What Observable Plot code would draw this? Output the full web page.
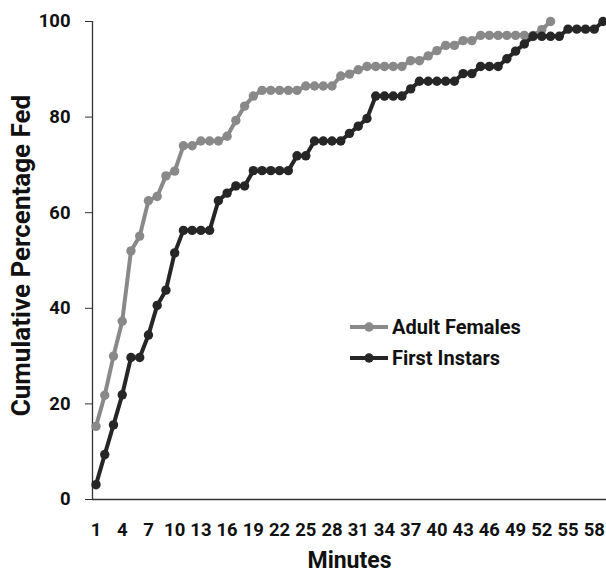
<!DOCTYPE html>
<html>
<head>
<meta charset="utf-8">
<script src="https://cdn.jsdelivr.net/npm/d3@7"></script>
<script src="https://cdn.jsdelivr.net/npm/@observablehq/plot@0.6"></script>
<style>
  html, body { margin: 0; padding: 0; background: #fff; }
  #wrap { position: relative; width: 606px; height: 575px; font-family: Roboto, "Open Sans", sans-serif; }
  #legend { position: absolute; left: 350px; top: 311px; font-weight: bold; font-size: 20px; color: #111; }
  #legend .row { display: flex; align-items: center; height: 31.6px; }
  #legend svg { margin-right: 2px; }
</style>
</head>
<body>
<div id="wrap"></div>
<script>
const adultMinutes = d3.range(1, 54);
const adultFemales = [15.3, 21.8, 30.0, 37.3, 52.0, 55.1, 62.5, 63.4, 67.7, 68.7,
  74.0, 74.0, 75.0, 75.0, 75.0, 76.0, 79.3, 82.3, 84.4, 85.6,
  85.6, 85.6, 85.6, 85.6, 86.5, 86.5, 86.5, 86.5, 88.6, 89.0,
  89.9, 90.6, 90.6, 90.6, 90.6, 90.6, 91.8, 91.8, 92.8, 93.9,
  95.0, 95.0, 96.0, 96.0, 97.1, 97.1, 97.1, 97.1, 97.1, 97.1,
  97.1, 98.3, 100];
const instarMinutes = d3.range(1, 60);
const firstInstars = [3.1, 9.4, 15.6, 21.9, 29.7, 29.7, 34.4, 40.6, 43.8, 51.6,
  56.3, 56.3, 56.3, 56.3, 62.5, 64.1, 65.6, 65.6, 68.8, 68.8,
  68.8, 68.8, 68.8, 71.9, 71.9, 75.0, 75.0, 75.0, 75.0, 76.6,
  78.1, 79.7, 84.4, 84.4, 84.4, 84.4, 85.9, 87.5, 87.5, 87.5,
  87.5, 87.5, 89.1, 89.1, 90.6, 90.6, 90.6, 92.2, 93.8, 95.3,
  96.9, 96.9, 96.9, 96.9, 98.4, 98.4, 98.4, 98.4, 100];
const xTicks = d3.range(1, 59, 3);
const yTicks = [0, 20, 40, 60, 80, 100];
const seriesNames = ["Adult Females", "First Instars"];
const seriesColors = ["#898989", "#262626"];

const adult = adultMinutes.map((m, i) => ({minute: m, value: adultFemales[i]}));
const instar = instarMinutes.map((m, i) => ({minute: m, value: firstInstars[i]}));

const chart = Plot.plot({
  width: 606,
  height: 575,
  marginLeft: 92,
  marginRight: 0,
  marginTop: 21,
  marginBottom: 76,
  style: {fontFamily: "Roboto, 'Open Sans', sans-serif", fontWeight: "bold", fontSize: "18px", color: "#111", background: "#fff"},
  x: {type: "linear", domain: [0.6, 59.4]},
  y: {domain: [0, 100]},
  marks: [
    Plot.axisY({ticks: yTicks, tickSize: 7, tickPadding: 15, label: null, stroke: "#333", fontSize: 18.5}),
    Plot.axisX({ticks: xTicks, tickSize: 0, tickPadding: 23, label: null, fontSize: 18.5, tickFormat: d => String(d)}),
    Plot.ruleX([0.6], {stroke: "#333", strokeWidth: 1.3}),
    Plot.ruleY([0], {stroke: "#333", strokeWidth: 1.3}),
    Plot.line(adult, {x: "minute", y: "value", stroke: seriesColors[0], strokeWidth: 4}),
    Plot.dot(adult, {x: "minute", y: "value", fill: seriesColors[0], r: 4.7}),
    Plot.line(instar, {x: "minute", y: "value", stroke: seriesColors[1], strokeWidth: 4}),
    Plot.dot(instar, {x: "minute", y: "value", fill: seriesColors[1], r: 4.7}),
    Plot.text(["Minutes"], {frameAnchor: "bottom", dy: 61, fontSize: 23, lineAnchor: "middle", textAnchor: "middle", fill: "#111"}),
    Plot.text(["Cumulative Percentage Fed"], {frameAnchor: "left", dx: -71, dy: -5, rotate: -90, fontSize: 26, lineAnchor: "middle", textAnchor: "middle", fill: "#111"})
  ]
});

const wrap = document.getElementById("wrap");
wrap.appendChild(chart);

const legend = document.createElement("div");
legend.id = "legend";
seriesNames.forEach((name, i) => {
  const row = document.createElement("div");
  row.className = "row";
  row.innerHTML = `<svg width="40" height="12"><line x1="0" x2="38" y1="6" y2="6" stroke="${seriesColors[i]}" stroke-width="4"/><circle cx="19" cy="6" r="4.7" fill="${seriesColors[i]}"/></svg><span>${name}</span>`;
  legend.appendChild(row);
});
wrap.appendChild(legend);
</script>
</body>
</html>
